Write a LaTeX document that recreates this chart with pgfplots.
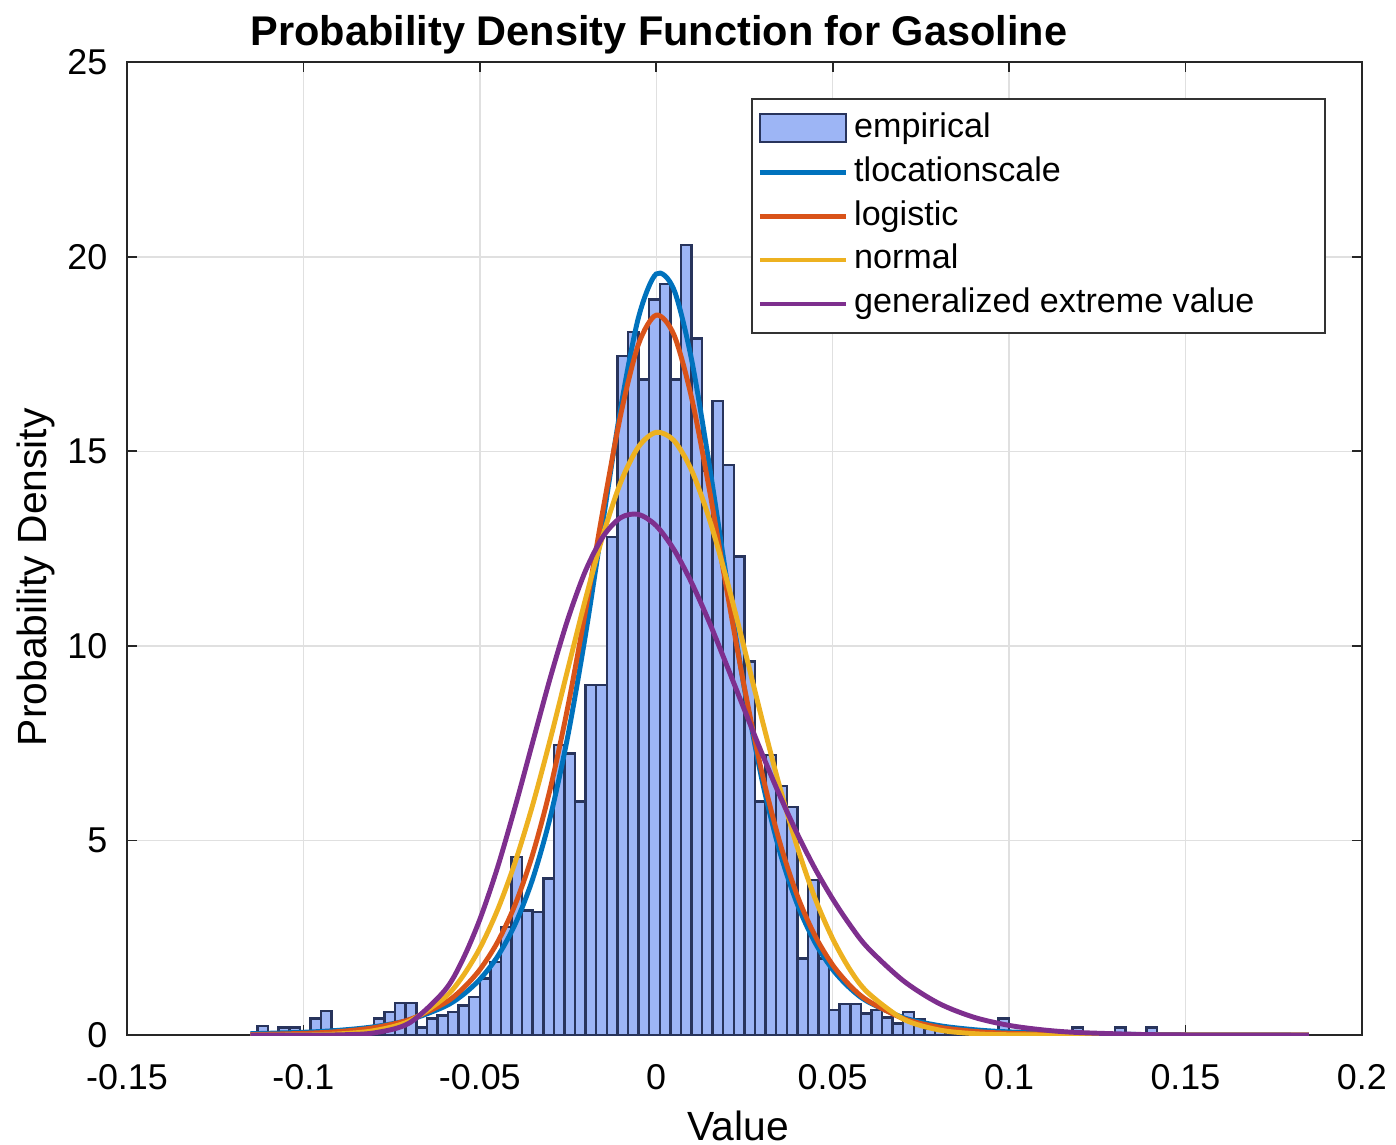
\documentclass[border=0pt]{standalone}
\usepackage{fontspec}
\setmainfont{Liberation Sans}
\usepackage{pgfplots}
\pgfplotsset{compat=1.18}
\definecolor{mblue}{rgb}{0,0.447,0.741}
\definecolor{morange}{rgb}{0.85,0.325,0.098}
\definecolor{myellow}{rgb}{0.929,0.694,0.125}
\definecolor{mpurple}{rgb}{0.494,0.184,0.556}
\definecolor{histfill}{RGB}{157,181,245}
\definecolor{histedge}{RGB}{40,52,92}
\begin{document}
\begin{tikzpicture}
\useasboundingbox (-36.1pt,-31.0pt) rectangle (360.8pt,294.3pt);
\begin{axis}[
  scale only axis, width=351.1pt, height=276.6pt,
  at={(0pt,0pt)}, anchor=south west,
  xmin=-0.15, xmax=0.2, ymin=0, ymax=25,
  scaled ticks=false,
  xtick={-0.15,-0.1,-0.05,0,0.05,0.1,0.15,0.2},
  xticklabels={-0.15,-0.1,-0.05,0,0.05,0.1,0.15,0.2},
  ytick={0,5,10,15,20,25}, yticklabels={0,5,10,15,20,25},
  tick align=inside, tick pos=both, major tick length=2.8pt,
  grid=major, grid style={black!12, line width=0.4pt},
  axis line style={black!85, line width=0.5pt},
  tick style={black!85, line width=0.5pt},
  xticklabel style={font=\fontsize{10.2}{12}\selectfont, anchor=center, inner sep=0pt, yshift=-11.9pt},
  yticklabel style={font=\fontsize{10.2}{12}\selectfont, anchor=east, inner sep=0pt, xshift=-5.4pt},
  title={Probability Density Function for Gasoline},
  title style={at={(0.4308,0.9957)}, anchor=base, inner sep=0pt, font=\bfseries\fontsize{11.8}{14}\selectfont},
  xlabel={Value},
  xlabel style={at={(0.495,-0.1081)}, anchor=base, inner sep=0pt, font=\fontsize{11.6}{14}\selectfont},
  ylabel={Probability Density},
  ylabel style={at={(-0.0655,0.4707)}, anchor=base, inner sep=0pt, font=\fontsize{11.6}{14}\selectfont},
  legend style={at={(0.9709,0.963)}, anchor=north east, draw=black!80, line width=0.5pt, fill=white,
    font=\fontsize{9.7}{11}\selectfont, inner xsep=1.5pt, inner ysep=2pt, row sep=0pt,
    nodes={inner sep=1.6pt, text height=7.2pt, text depth=2.1pt}},
  legend cell align=left,
  legend image code/.code={\draw[#1] (0pt,0pt) -- (24.5pt,0pt);},
]
\addplot[ybar interval, draw=histedge, fill=histfill, line width=0.7pt,
  legend image code/.code={\draw[draw=histedge, fill=histfill, line width=0.6pt] (0pt,-4pt) rectangle (24.5pt,4pt);}]
coordinates {
(-0.113,0.23) (-0.110,0) (-0.107,0.2) (-0.104,0.2) (-0.101,0) (-0.098,0.43) (-0.095,0.62)
(-0.092,0) (-0.089,0) (-0.086,0) (-0.083,0) (-0.080,0.43) (-0.077,0.6) (-0.074,0.82)
(-0.071,0.82) (-0.068,0.2) (-0.065,0.43) (-0.062,0.5) (-0.059,0.6) (-0.056,0.76)
(-0.053,0.98) (-0.050,1.46) (-0.047,1.88) (-0.044,2.78) (-0.041,4.58) (-0.038,3.2)
(-0.035,3.17) (-0.032,4.03) (-0.029,7.45) (-0.026,7.24) (-0.023,6.0) (-0.020,9.0)
(-0.017,9.0) (-0.014,12.8) (-0.011,17.45) (-0.008,18.07) (-0.005,16.85) (-0.002,18.9)
(0.001,19.3) (0.004,16.85) (0.007,20.3) (0.010,17.9) (0.013,14.5) (0.016,16.3)
(0.019,14.65) (0.022,12.3) (0.025,9.6) (0.028,6.0) (0.031,7.2) (0.034,6.4) (0.037,5.86)
(0.040,1.97) (0.043,3.98) (0.046,1.97) (0.049,0.64) (0.052,0.8) (0.055,0.8) (0.058,0.55)
(0.061,0.64) (0.064,0.45) (0.067,0.3) (0.070,0.6) (0.073,0.4) (0.076,0.15) (0.079,0.1)
(0.082,0) (0.085,0) (0.088,0) (0.091,0) (0.094,0) (0.097,0.43) (0.100,0) (0.103,0)
(0.106,0) (0.109,0) (0.112,0) (0.115,0) (0.118,0.2) (0.121,0) (0.124,0) (0.127,0)
(0.130,0.2) (0.133,0) (0.136,0) (0.139,0.2) (0.142,0)
};
\addlegendentry{empirical}
\addplot[mblue, line width=1.4pt, smooth] coordinates {
(-0.115,0.036) (-0.1,0.073) (-0.09,0.123) (-0.08,0.215) (-0.07,0.389) (-0.06,0.733)
(-0.055,1.020) (-0.05,1.431) (-0.045,2.016) (-0.04,2.848) (-0.035,4.016) (-0.03,5.613)
(-0.025,7.71) (-0.02,10.31) (-0.015,13.25) (-0.01,16.15) (-0.005,18.45) (0,19.56)
(0.005,19.16) (0.01,17.37) (0.015,14.68) (0.02,11.70) (0.025,8.90) (0.03,6.55)
(0.035,4.72) (0.04,3.361) (0.045,2.380) (0.05,1.686) (0.055,1.199) (0.06,0.858)
(0.07,0.451) (0.08,0.247) (0.09,0.140) (0.1,0.083) (0.12,0.032) (0.14,0.014)
(0.16,0.007) (0.185,0.003)
};
\addlegendentry{tlocationscale}
\addplot[morange, line width=1.4pt, smooth] coordinates {
(-0.115,0.014) (-0.1,0.044) (-0.09,0.091) (-0.08,0.190) (-0.07,0.397) (-0.06,0.821)
(-0.055,1.179) (-0.05,1.681) (-0.045,2.384) (-0.04,3.350) (-0.035,4.650) (-0.03,6.346)
(-0.025,8.457) (-0.02,10.92) (-0.015,13.54) (-0.01,15.97) (-0.005,17.76) (0,18.50)
(0.005,18.00) (0.01,16.39) (0.015,14.05) (0.02,11.44) (0.025,8.93) (0.03,6.73)
(0.035,4.96) (0.04,3.58) (0.045,2.554) (0.05,1.804) (0.055,1.266) (0.06,0.884)
(0.07,0.427) (0.08,0.205) (0.09,0.098) (0.1,0.047) (0.12,0.011) (0.14,0.002)
(0.16,0.0005) (0.185,0)
};
\addlegendentry{logistic}
\addplot[myellow, line width=1.4pt, smooth] coordinates {
(-0.115,0.001) (-0.1,0.007) (-0.09,0.031) (-0.08,0.114) (-0.07,0.357) (-0.06,0.962)
(-0.055,1.49) (-0.05,2.23) (-0.045,3.21) (-0.04,4.44) (-0.035,5.92) (-0.03,7.61)
(-0.025,9.42) (-0.02,11.22) (-0.015,12.87) (-0.01,14.22) (-0.005,15.12) (0,15.49)
(0.005,15.28) (0.01,14.52) (0.015,13.28) (0.02,11.70) (0.025,9.93) (0.03,8.11)
(0.035,6.38) (0.04,4.83) (0.045,3.52) (0.05,2.48) (0.055,1.67) (0.06,1.09)
(0.07,0.413) (0.08,0.135) (0.09,0.038) (0.1,0.009) (0.12,0.0003) (0.14,0) (0.16,0) (0.185,0)
};
\addlegendentry{normal}
\addplot[mpurple, line width=1.4pt, smooth] coordinates {
(-0.115,0) (-0.1,0.0004) (-0.09,0.006) (-0.08,0.056) (-0.07,0.31) (-0.06,1.14)
(-0.055,1.91) (-0.05,2.97) (-0.045,4.30) (-0.04,5.86) (-0.035,7.53) (-0.03,9.19)
(-0.025,10.70) (-0.02,11.94) (-0.015,12.82) (-0.01,13.30) (-0.005,13.38) (0,13.09)
(0.005,12.48) (0.01,11.63) (0.015,10.62) (0.02,9.50) (0.025,8.36) (0.03,7.23)
(0.035,6.16) (0.04,5.17) (0.045,4.28) (0.05,3.50) (0.055,2.82) (0.06,2.24)
(0.07,1.40) (0.08,0.82) (0.09,0.46) (0.1,0.25) (0.11,0.13) (0.12,0.065) (0.14,0.012)
(0.16,0.001) (0.185,0)
};
\addlegendentry{generalized extreme value\hspace*{17pt}}
\end{axis}
\end{tikzpicture}
\end{document}
